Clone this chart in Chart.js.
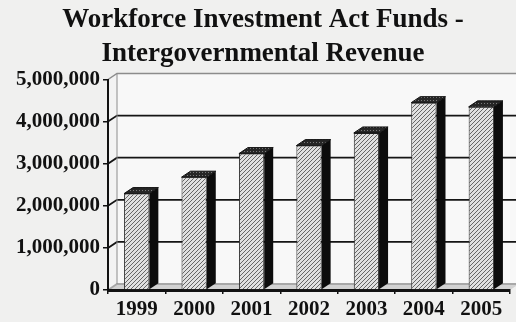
<!DOCTYPE html>
<html>
<head>
<meta charset="utf-8">
<script src="https://cdn.jsdelivr.net/npm/chart.js@4/dist/chart.umd.min.js"></script>
<style>
  html, body { margin: 0; padding: 0; background: #f0f0ef; }
  #wrap { width: 516px; height: 322px; }
</style>
</head>
<body>
<div id="wrap"><canvas id="wiaChart" width="516" height="322"></canvas></div>
<script>
const years = ["1999", "2000", "2001", "2002", "2003", "2004", "2005"];
const revenue = [2290000, 2680000, 3240000, 3430000, 3730000, 4450000, 4350000];
const yTickValues = [0, 1000000, 2000000, 3000000, 4000000, 5000000];

const serif = "'Liberation Serif', 'Times New Roman', serif";
const depth = { dx: 9, dy: -6 };

// diagonal hatch for the front faces of the bars
function hatchPattern() {
    const c = document.createElement("canvas");
    c.width = 4; c.height = 4;
    const g = c.getContext("2d");
    g.fillStyle = "#e0e0e0";
    g.fillRect(0, 0, 4, 4);
    g.strokeStyle = "#666";
    g.lineWidth = 1;
    g.beginPath();
    g.moveTo(0, 4); g.lineTo(4, 0);
    g.moveTo(-1, 1); g.lineTo(1, -1);
    g.moveTo(3, 5); g.lineTo(5, 3);
    g.stroke();
    return g.createPattern(c, "repeat");
}

// dark speckled fill for the bar tops
function topPattern(ctx) {
    const c = document.createElement("canvas");
    c.width = 3; c.height = 3;
    const g = c.getContext("2d");
    g.fillStyle = "#262626";
    g.fillRect(0, 0, 3, 3);
    g.fillStyle = "#7a7a7a";
    g.fillRect(1, 1, 1, 1);
    return ctx.createPattern(c, "repeat");
}

function poly(ctx, pts) {
    ctx.beginPath();
    ctx.moveTo(pts[0][0], pts[0][1]);
    for (let i = 1; i < pts.length; i++) ctx.lineTo(pts[i][0], pts[i][1]);
    ctx.closePath();
}

const box3d = {
    id: "box3d",
    beforeDraw(chart) {
        const { ctx, chartArea: a, scales: { y } } = chart;
        const { dx, dy } = depth;
        ctx.save();
        ctx.fillStyle = "#f0f0ef";
        ctx.fillRect(0, 0, chart.width, chart.height);

        // back wall
        ctx.fillStyle = "#f8f8f8";
        ctx.fillRect(a.left + dx, a.top + dy, a.right - a.left, a.bottom - a.top);
        // side wall
        ctx.fillStyle = "#f3f3f3";
        poly(ctx, [[a.left, a.top], [a.left + dx, a.top + dy], [a.left + dx, a.bottom + dy], [a.left, a.bottom]]);
        ctx.fill();
        // floor
        ctx.fillStyle = "#d2d2d2";
        poly(ctx, [[a.left, a.bottom], [a.right, a.bottom], [a.right + dx, a.bottom + dy], [a.left + dx, a.bottom + dy]]);
        ctx.fill();

        // gridlines on the side and back walls
        yTickValues.forEach(v => {
            const py = y.getPixelForValue(v);
            const top = v === y.max;
            ctx.strokeStyle = v === 0 ? "#a8a8a8" : (top ? "#8c8c8c" : "#151515");
            ctx.lineWidth = top ? 1.5 : 1.8;
            ctx.beginPath();
            ctx.moveTo(a.left, py);
            ctx.lineTo(a.left + dx, py + dy);
            ctx.lineTo(a.right + dx, py + dy);
            ctx.stroke();
        });
        // corner where side wall meets back wall
        ctx.strokeStyle = "#8c8c8c";
        ctx.lineWidth = 1;
        ctx.beginPath();
        ctx.moveTo(a.left + dx, a.top + dy);
        ctx.lineTo(a.left + dx, a.bottom + dy);
        ctx.stroke();
        ctx.restore();
    },
    afterDatasetsDraw(chart) {
        const { ctx } = chart;
        const { dx, dy } = depth;
        const topFill = topPattern(ctx);
        ctx.save();
        chart.getDatasetMeta(0).data.forEach(bar => {
            const l = bar.x - bar.width / 2;
            const r = bar.x + bar.width / 2;
            // right side face
            ctx.fillStyle = "#0c0c0c";
            poly(ctx, [[r, bar.y], [r + dx, bar.y + dy], [r + dx, bar.base + dy], [r, bar.base]]);
            ctx.fill();
            // top face
            ctx.fillStyle = topFill;
            poly(ctx, [[l, bar.y], [r, bar.y], [r + dx, bar.y + dy], [l + dx, bar.y + dy]]);
            ctx.fill();
            ctx.strokeStyle = "#111";
            ctx.lineWidth = 1;
            ctx.stroke();
        });
        ctx.restore();
    }
};

new Chart(document.getElementById("wiaChart"), {
    type: "bar",
    data: {
        labels: years,
        datasets: [{
            label: "Intergovernmental Revenue",
            data: revenue,
            backgroundColor: hatchPattern(),
            borderColor: "#2a2a2a",
            borderWidth: 1,
            barPercentage: 0.44,
            categoryPercentage: 1
        }]
    },
    options: {
        responsive: false,
        devicePixelRatio: 1,
        animation: false,
        layout: { padding: { left: 16, right: 6, top: 0, bottom: 0 } },
        plugins: {
            legend: { display: false },
            tooltip: { enabled: false },
            title: {
                display: true,
                text: ["Workforce Investment Act Funds -", "Intergovernmental Revenue"],
                color: "#111",
                font: { family: serif, size: 27, weight: "bold", lineHeight: 1.25 },
                padding: { top: 3, bottom: 9 }
            }
        },
        scales: {
            x: {
                offset: true,
                afterFit: s => { s.height = 32; },
                grid: { drawOnChartArea: false, offset: true, tickLength: 4, color: "#111", lineWidth: 1.5 },
                border: { color: "#111", width: 3 },
                ticks: {
                    color: "#111",
                    padding: 3,
                    maxRotation: 0,
                    autoSkip: false,
                    font: { family: serif, size: 21, weight: "bold" }
                }
            },
            y: {
                min: 0,
                max: 5000000,
                afterBuildTicks: s => { s.ticks = yTickValues.map(v => ({ value: v })); },
                afterFit: s => { s.width = 92; },
                grid: { drawOnChartArea: false, tickLength: 5, color: "#111", lineWidth: 1.5 },
                border: { color: "#111", width: 2 },
                ticks: {
                    color: "#111",
                    padding: 3,
                    font: { family: serif, size: 21, weight: "bold" },
                    callback: v => v.toLocaleString("en-US")
                }
            }
        }
    },
    plugins: [box3d]
});
</script>
</body>
</html>
